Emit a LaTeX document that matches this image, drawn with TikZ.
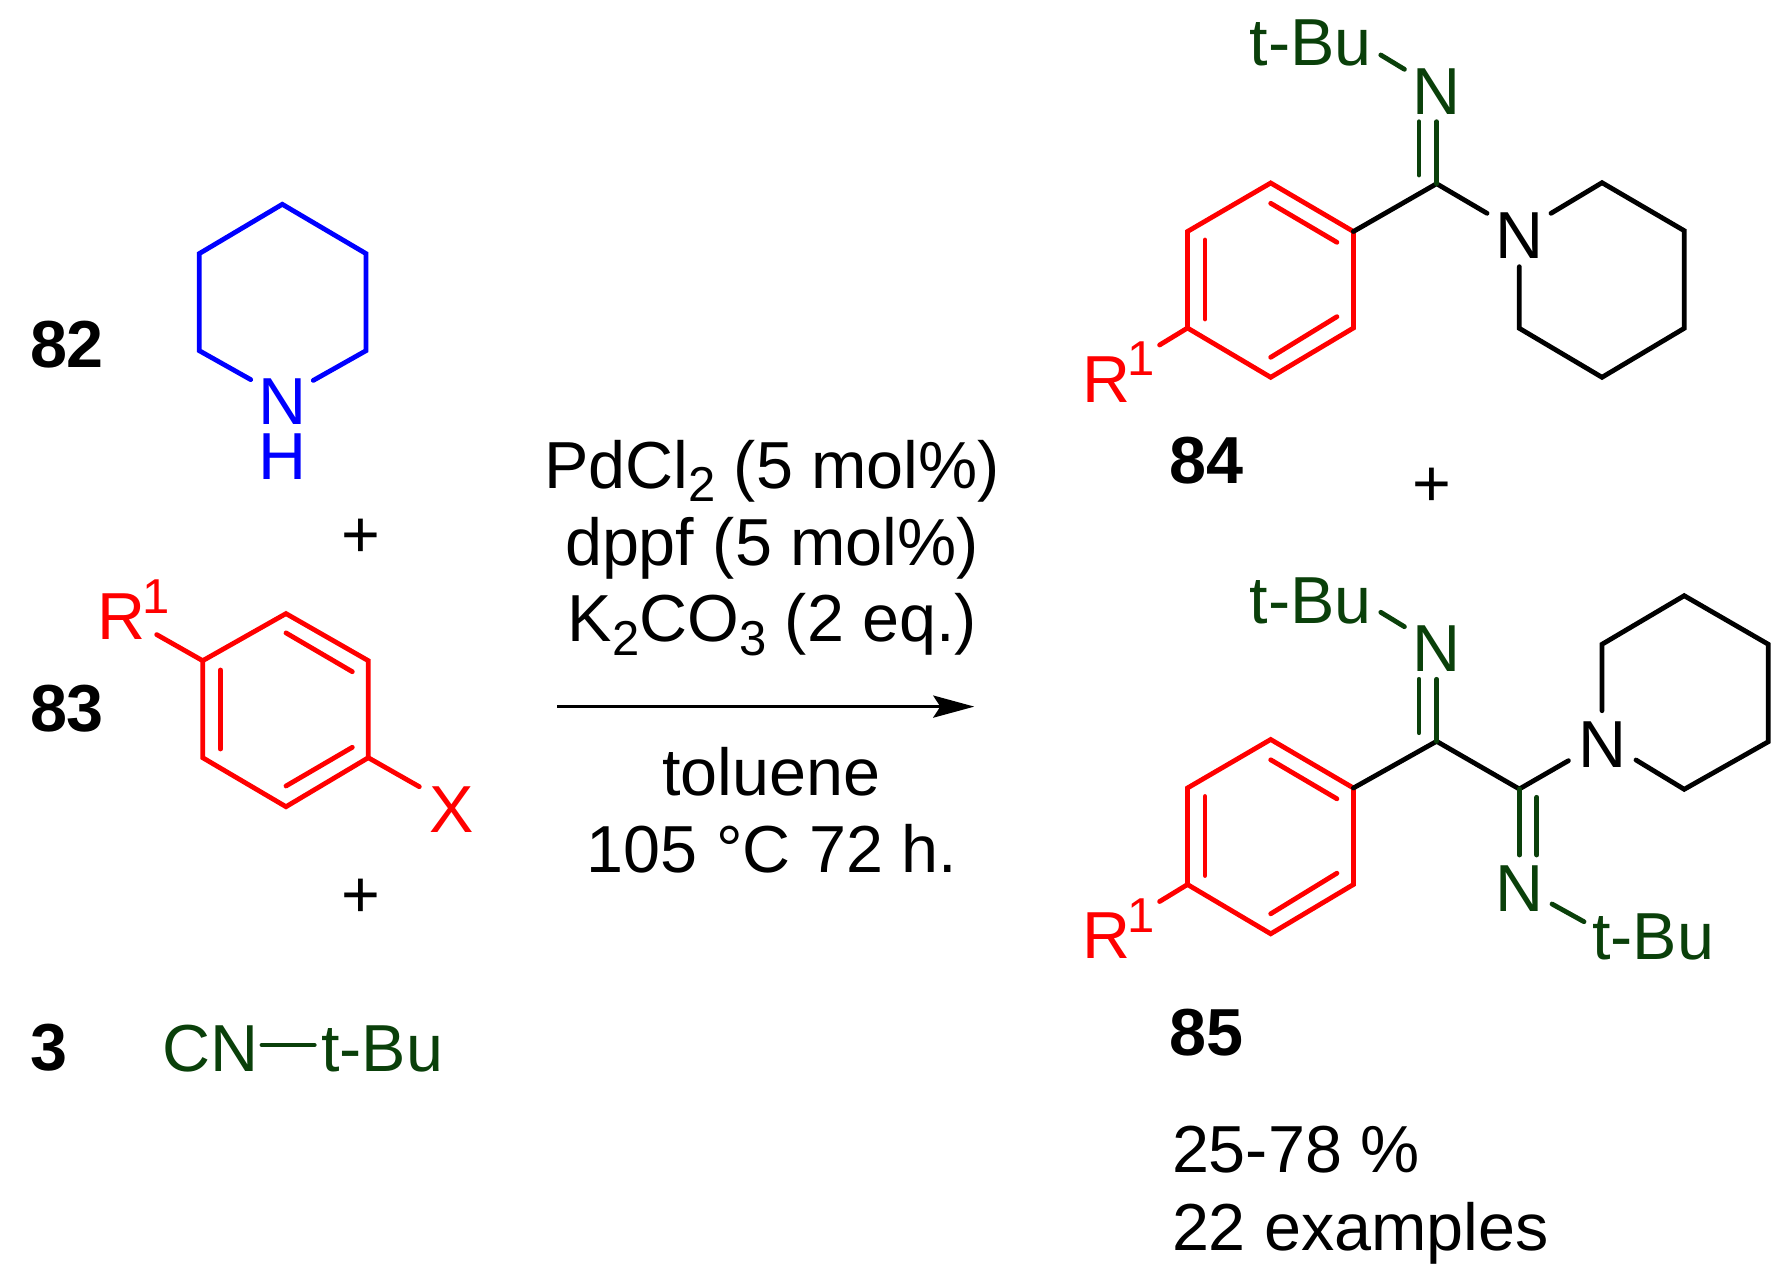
\documentclass[tikz,border=0pt]{standalone}
\usepackage{fontspec}
\setmainfont{Liberation Sans}
\usetikzlibrary{arrows.meta}
\definecolor{imgreen}{HTML}{0A400A}
\definecolor{rred}{HTML}{FF0000}
\definecolor{pblue}{HTML}{0000FF}
\newcommand{\bigsize}{\fontsize{66.5}{70}\selectfont}
\newcommand{\smallsize}{\fontsize{49}{52}\selectfont}
\newcommand{\low}[1]{\raisebox{-13.4pt}{\smallsize #1}}
\tikzset{
  lab/.style={inset sep 0,anchor=base,font=\bigsize},
  inset sep 0/.style={inner sep=0pt,outer sep=0pt},
  boldlab/.style={lab,font=\bigsize\bfseries},
  suplab/.style={inset sep 0,anchor=base,font=\smallsize},
  bond/.style={line width=4.8pt,line cap=round,line join=miter},
  blackbond/.style={bond,black},
  redbond/.style={bond,rred},
  bluebond/.style={bond,pblue},
  greenbond/.style={bond,imgreen},
  rxnarrow/.style={line width=3.6pt,-{Stealth[length=41pt,width=22pt,inset=7pt]}}
}
\newcommand{\arylgroup}[2]{%
  \coordinate (#1t) at (1270.7,#2+183);
  \coordinate (#1ur) at (1353.4,#2+231.5);
  \coordinate (#1lr) at (1353.4,#2+328);
  \coordinate (#1b) at (1270.7,#2+377.3);
  \coordinate (#1ll) at (1187.5,#2+328);
  \coordinate (#1ul) at (1187.5,#2+231.5);
  \coordinate (#1i1) at (1270.7,#2+203.3);
  \coordinate (#1i2) at (1336.9,#2+242.3);
  \coordinate (#1i3) at (1205,#2+240);
  \coordinate (#1i4) at (1205,#2+319);
  \coordinate (#1i5) at (1270.7,#2+357.3);
  \coordinate (#1i6) at (1336.9,#2+316.7);
  \coordinate (#1r) at (1159.6,#2+345);
  \draw[redbond] (#1t)--(#1ur)--(#1lr)--(#1b)--(#1ll)--(#1ul)--cycle;
  \draw[redbond] (#1i1)--(#1i2);
  \draw[redbond] (#1i3)--(#1i4);
  \draw[redbond] (#1i5)--(#1i6);
  \draw[redbond] (#1ll)--(#1r);
  \node[lab,text=rred] (#1R) at (1106,#2+402.3) {R};
  \node[suplab,text=rred] (#1one) at (1141,#2+375.7) {1};
}
\begin{document}
\begin{tikzpicture}[x=1pt,y=-1pt]
\useasboundingbox (0,0) rectangle (1790,1281);
\fill[white] (0,0) rectangle (1790,1281);

% ---- 82 piperidine
\node[boldlab] (n82) at (67,367) {82};
\coordinate (pa) at (282.3,204.3);
\coordinate (pb) at (366,253.6);
\coordinate (pc) at (366,350.7);
\coordinate (pd) at (313.3,380.4);
\coordinate (pe) at (199.3,253.6);
\coordinate (pf) at (199.3,350.7);
\coordinate (pg) at (250.7,379.6);
\draw[bluebond] (pg)--(pf)--(pe)--(pa)--(pb)--(pc)--(pd);
\node[inner sep=0pt,outer sep=0pt,anchor=north,align=center,text=pblue,font=\fontsize{66.5}{54.5}\selectfont] (pNH) at (282.5,379) {N\\H};
\node[lab] (plus1) at (360.5,557.6) {+};

% ---- 83 aryl halide
\node[boldlab] (n83) at (67,731) {83};
\coordinate (at) at (286,613.6);
\coordinate (aur) at (368.3,660.7);
\coordinate (alr) at (368.3,757.7);
\coordinate (ab) at (286,806.7);
\coordinate (all) at (202.7,757.7);
\coordinate (aul) at (202.7,660.7);
\coordinate (ai1) at (286,632.9);
\coordinate (ai2) at (352.3,671.7);
\coordinate (ai3) at (220.3,670);
\coordinate (ai4) at (220.3,749);
\coordinate (ai5) at (286,786);
\coordinate (ai6) at (352.3,747.3);
\coordinate (ar) at (156.7,634.6);
\coordinate (ax) at (419.3,786.7);
\draw[redbond] (at)--(aur)--(alr)--(ab)--(all)--(aul)--cycle;
\draw[redbond] (ai1)--(ai2);
\draw[redbond] (ai3)--(ai4);
\draw[redbond] (ai5)--(ai6);
\draw[redbond] (aul)--(ar);
\draw[redbond] (alr)--(ax);
\node[lab,text=rred] (aR) at (121.7,639) {R};
\node[suplab,text=rred] (aone) at (156.5,613.6) {1};
\node[lab,text=rred] (aX) at (451.7,832.7) {X};
\node[lab] (plus2) at (360.5,917.5) {+};

% ---- 3 isocyanide
\node[boldlab] (n3) at (48.5,1070) {3};
\node[lab,text=imgreen] (iCN) at (211,1071.7) {CN};
\node[lab,text=imgreen] (itBu) at (382,1071.7) {t-Bu};
\coordinate (ib1) at (262,1045);
\coordinate (ib2) at (314.3,1045);
\draw[greenbond] (ib1)--(ib2);

% ---- conditions
\node[lab] (c1) at (772,488.3) {PdCl\low{2} (5 mol\%)};
\node[lab] (c2) at (772,565.7) {dppf (5 mol\%)};
\node[lab] (c3) at (772.5,641.7) {K\low{2}CO\low{3} (2 eq.)};
\coordinate (arrS) at (557.3,706.6);
\coordinate (arrE) at (974.3,706.6);
\draw[rxnarrow] (arrS)--(arrE);
\node[lab] (c4) at (771.5,795) {toluene};
\node[lab] (c5) at (772,872.3) {105 °C 72 h.};

% ---- 84
\arylgroup{x}{0}
\coordinate (xC) at (1436.6,183.7);
\coordinate (xd1) at (1419,121.7);
\coordinate (xd2) at (1419,175);
\coordinate (xd3) at (1436.6,121.7);
\coordinate (xn1) at (1487,213.3);
\coordinate (xtb) at (1380.8,55);
\coordinate (xtn) at (1404.4,69.3);
\coordinate (xq1) at (1551,213.3);
\coordinate (xq2) at (1602,182.7);
\coordinate (xq3) at (1684.2,230.7);
\coordinate (xq4) at (1684.2,328.3);
\coordinate (xq5) at (1602,377.3);
\coordinate (xq6) at (1519.3,328.3);
\coordinate (xq7) at (1519.3,266.7);
\draw[blackbond] (xur)--(xC)--(xn1);
\draw[greenbond] (xd1)--(xd2);
\draw[greenbond] (xd3)--(xC);
\draw[greenbond] (xtb)--(xtn);
\draw[blackbond] (xq1)--(xq2)--(xq3)--(xq4)--(xq5)--(xq6)--(xq7);
\node[lab,text=imgreen] (xtBu) at (1310.5,66) {t-Bu};
\node[lab,text=imgreen] (xN) at (1436.6,114.4) {N};
\node[lab] (xNp) at (1519.3,258.3) {N};
\node[boldlab] (n84) at (1206.5,483.3) {84};
\node[lab] (plus3) at (1431.4,506.3) {+};

% ---- 85
\arylgroup{y}{556.5}
\coordinate (yC) at (1436.6,741.3);
\coordinate (yC2) at (1519.3,789);
\coordinate (yd1) at (1419,679.3);
\coordinate (yd2) at (1419,732.7);
\coordinate (yd3) at (1436.6,679.3);
\coordinate (yn1) at (1568.4,760.7);
\coordinate (ytb) at (1380.8,612.3);
\coordinate (ytn) at (1404.4,626.7);
\coordinate (ye1) at (1519.3,855);
\coordinate (ye2) at (1536.8,797.3);
\coordinate (ye3) at (1536.8,855);
\coordinate (ytb2) at (1552,904);
\coordinate (ytn2) at (1584,921.7);
\coordinate (yq1) at (1602,710.7);
\coordinate (yq2) at (1602,644.3);
\coordinate (yq3) at (1684.2,595.7);
\coordinate (yq4) at (1768.3,644.3);
\coordinate (yq5) at (1768.3,741.7);
\coordinate (yq6) at (1684.2,789.3);
\coordinate (yq7) at (1636,760);
\draw[blackbond] (yur)--(yC)--(yC2)--(yn1);
\draw[greenbond] (yd1)--(yd2);
\draw[greenbond] (yd3)--(yC);
\draw[greenbond] (ytb)--(ytn);
\draw[greenbond] (yC2)--(ye1);
\draw[greenbond] (ye2)--(ye3);
\draw[greenbond] (ytb2)--(ytn2);
\draw[blackbond] (yq1)--(yq2)--(yq3)--(yq4)--(yq5)--(yq6)--(yq7);
\node[lab,text=imgreen] (ytBu) at (1310.5,623.3) {t-Bu};
\node[lab,text=imgreen] (yN) at (1436.6,671.7) {N};
\node[lab] (yNp) at (1602,767.3) {N};
\node[lab,text=imgreen] (yNl) at (1519.3,911.7) {N};
\node[lab,text=imgreen] (ytBul) at (1653,959.3) {t-Bu};
\node[boldlab] (n85) at (1206,1055) {85};
\node[lab,anchor=base west] (yield) at (1172,1172.7) {25-78 \%};
\node[lab,anchor=base west] (exa) at (1172,1250) {22 examples};
\end{tikzpicture}
\end{document}
